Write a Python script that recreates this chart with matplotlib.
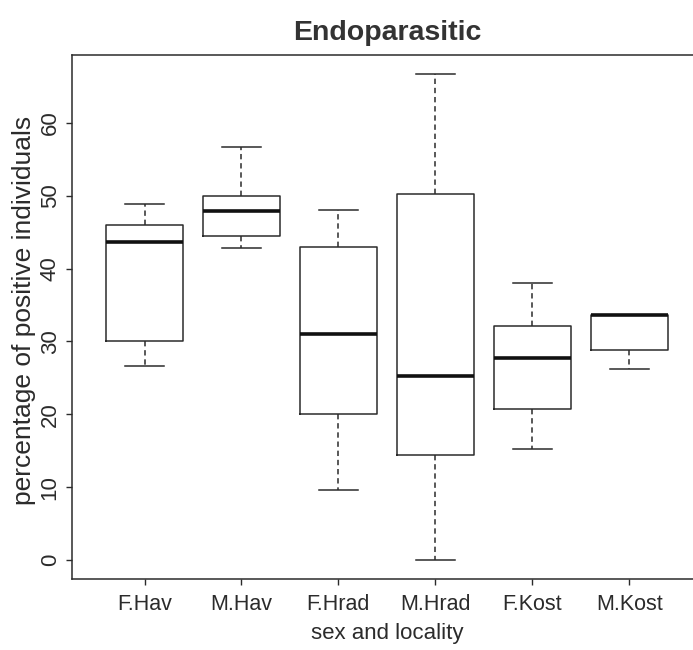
import matplotlib
matplotlib.use("Agg")
import matplotlib.pyplot as plt
from matplotlib import font_manager as fm

# ---- data ----
labels = ["F.Hav", "M.Hav", "F.Hrad", "M.Hrad", "F.Kost", "M.Kost"]
whisker_low = [26.6, 42.9, 9.6, 0.0, 15.3, 26.2]
quartile1 = [30.0, 44.5, 20.0, 14.4, 20.7, 28.8]
medians = [43.6, 47.9, 31.0, 25.2, 27.7, 33.6]
quartile3 = [46.0, 50.0, 43.0, 50.2, 32.1, 33.7]
whisker_high = [48.9, 56.7, 48.0, 66.7, 38.0, 33.7]
yticks = [0, 10, 20, 30, 40, 50, 60]

title = "Endoparasitic"
xlabel = "sex and locality"
ylabel = "percentage of positive individuals"

# ---- fonts ----
def have(name):
    try:
        fm.findfont(fm.FontProperties(family=name), fallback_to_default=False)
        return True
    except Exception:
        return False

regular = "Liberation Sans" if have("Liberation Sans") else "DejaVu Sans"

ink = "#2b2b2b"

W, H = 693, 650
fig = plt.figure(figsize=(W / 100, H / 100), dpi=100)
left_px, right_px, top_px, bot_px = 71.8, 702.0, 54.8, 579.4
ax = fig.add_axes([left_px / W, (H - bot_px) / H,
                   (right_px - left_px) / W, (bot_px - top_px) / H])

stats = []
for lab, lo, a, m, b, hi in zip(labels, whisker_low, quartile1, medians,
                                quartile3, whisker_high):
    stats.append(dict(label=lab, whislo=lo, q1=a, med=m, q3=b, whishi=hi,
                      fliers=[]))

positions = list(range(1, len(labels) + 1))
ax.bxp(stats, positions=positions, widths=0.8, capwidths=0.4,
       showfliers=False,
       boxprops=dict(color=ink, linewidth=1.1),
       medianprops=dict(color="#111111", linewidth=2.6, solid_capstyle="butt"),
       whiskerprops=dict(color=ink, linewidth=1.1, linestyle=(0, (3.5, 2.5))),
       capprops=dict(color=ink, linewidth=1.1))

ymin, ymax = min(whisker_low), max(whisker_high)
span = ymax - ymin
ax.set_ylim(ymin - 0.04 * span, ymax + 0.04 * span)
ax.set_xlim(0.25, 6.75)

for s in ["left", "bottom", "top", "right"]:
    ax.spines[s].set_color(ink)
    ax.spines[s].set_linewidth(1.1)

ax.set_yticks(yticks)
ax.set_yticklabels([str(v) for v in yticks], rotation=90, va="center",
                   fontsize=16, family=regular, color=ink)
ax.set_xticks(positions)
ax.set_xticklabels(labels, fontsize=15.5, family=regular, color=ink)
ax.tick_params(axis="both", direction="out", length=4.5, width=1.0,
               color=ink)
ax.tick_params(axis="y", pad=3.5)
ax.tick_params(axis="x", pad=6)

ax.set_xlabel(xlabel, fontsize=16, family=regular, color=ink)
ax.xaxis.set_label_coords((387 - left_px) / (right_px - left_px),
                          -(633 - bot_px) / (bot_px - top_px))
ax.xaxis.label.set_va("center")
ax.set_ylabel(ylabel, fontsize=19, family=regular, color=ink)
ax.yaxis.set_label_coords(-(left_px - 24) / (right_px - left_px),
                          (bot_px - 310) / (bot_px - top_px))
ax.yaxis.label.set_va("center")
ax.set_title(title, fontsize=20.5, family=regular, fontweight="bold",
             color="#333333", pad=11)

fig.savefig("out.png", dpi=100, facecolor="white")
